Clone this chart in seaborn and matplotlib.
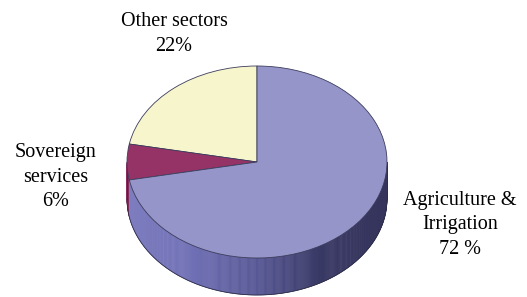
import matplotlib
matplotlib.use("Agg")
import matplotlib.pyplot as plt
import matplotlib.transforms as mtransforms
from matplotlib.patches import Polygon
import numpy as np
import seaborn as sns

# data
sectors = ["Other sectors", "Sovereign services", "Agriculture & Irrigation"]
shares = [22, 6, 72]
labels = ["Other sectors\n22%", "Sovereign\nservices\n6%", "Agriculture &\nIrrigation\n72 %"]

# styling
top_colors = ["#F7F5CC", "#963366", "#9595C9"]
side_stops = [["#C9C7A0", "#B8B690", "#A8A682", "#7E7C5E", "#6E6C50"],
              ["#862A5A", "#80285A", "#7A2450", "#602040", "#561838"],
              ["#7D7DC0", "#7070B6", "#585896", "#383864", "#34345C"]]
label_pos = [(174, 34), (56, 177), (460, 225)]

sns.set_style("white")
plt.rcParams["font.family"] = ["Liberation Serif", "DejaVu Serif"]

W, H = 527, 297
fig = plt.figure(figsize=(W / 100, H / 100), dpi=100)
ax = fig.add_axes([0, 0, 1, 1])

cx, cy = 257, H - 162
a, b, depth = 130, 96, 37

# top face of the pie, squashed into an ellipse
wedges, _ = ax.pie(shares, colors=top_colors, startangle=90, counterclock=True,
                   radius=a, center=(0, 0),
                   wedgeprops=dict(edgecolor="#3c3c5c", linewidth=0.6))
squash = mtransforms.Affine2D().scale(1, b / a).translate(cx, cy) + ax.transData
for w in wedges:
    w.set_transform(squash)
    w.set_zorder(3)

# side wall (front half only), lighter on the left, darker on the right
bounds = 90 + 360 * np.concatenate([[0], np.cumsum(shares)]) / sum(shares)
side_pals = [sns.blend_palette(s, 101) for s in side_stops]
theta = np.linspace(180, 360, 361)
for t0, t1 in zip(theta[:-1], theta[1:]):
    mid = (t0 + t1) / 2
    k = np.searchsorted(bounds, mid) - 1
    shade = int(round(100 * (1 + np.cos(np.radians(mid))) / 2))
    col = side_pals[k][shade]
    r0, r1 = np.radians(t0), np.radians(t1)
    p0 = (cx + a * np.cos(r0), cy + b * np.sin(r0))
    p1 = (cx + a * np.cos(r1), cy + b * np.sin(r1))
    poly = Polygon([p0, p1, (p1[0], p1[1] - depth), (p0[0], p0[1] - depth)],
                   closed=True, facecolor=col, edgecolor=col, linewidth=0.4, zorder=1)
    ax.add_patch(poly)

th = np.radians(theta)
ax.plot(cx + a * np.cos(th), cy + b * np.sin(th) - depth, color="#2e2e48", lw=0.6, zorder=2)
ax.plot([cx - a, cx - a], [cy, cy - depth], color="#2e2e48", lw=0.6, zorder=2)
ax.plot([cx + a, cx + a], [cy, cy - depth], color="#2e2e48", lw=0.6, zorder=2)

for text, (x, y) in zip(labels, label_pos):
    ax.text(x, H - y, text, ha="center", va="center", fontsize=14.5, color="black",
            linespacing=1.4)

ax.set_aspect("auto")
ax.set_xlim(0, W)
ax.set_ylim(0, H)
ax.axis("off")

fig.savefig("out.png", dpi=100, facecolor="white")
